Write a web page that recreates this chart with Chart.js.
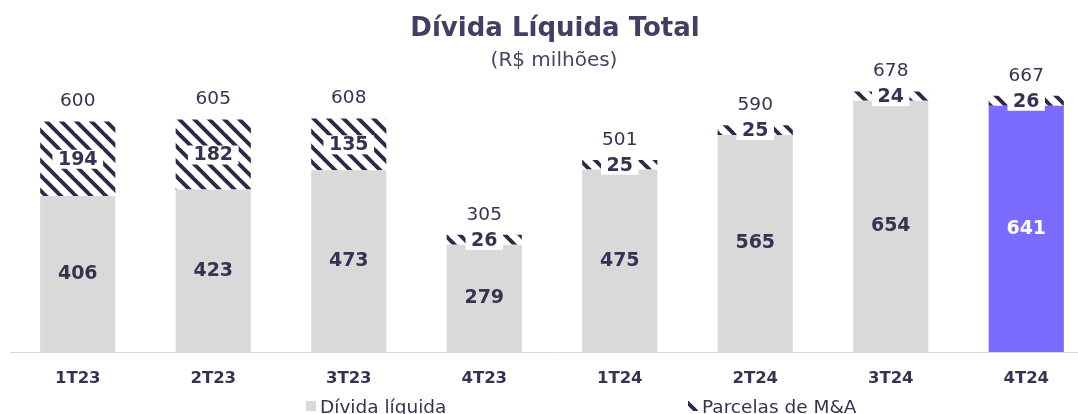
<!DOCTYPE html>
<html>
<head>
<meta charset="utf-8">
<script src="https://cdn.jsdelivr.net/npm/chart.js@4"></script>
<style>
  body { margin: 0; overflow: hidden; background: #fff; }
  #wrap { position: absolute; left: 0; top: 0; width: 1094px; height: 414px; }
</style>
</head>
<body>
<div id="wrap"><canvas id="c" width="1094" height="414"></canvas></div>
<script>
// data
const categories = ['1T23', '2T23', '3T23', '4T23', '1T24', '2T24', '3T24', '4T24'];
const dividaLiquida = [406, 423, 473, 279, 475, 565, 654, 641];
const parcelasMA = [194, 182, 135, 26, 25, 25, 24, 26];
const totais = [600, 605, 608, 305, 501, 590, 678, 667];

const dark = '#3a3152';
const font = 'DejaVu Sans';

// diagonal hatch for the M&A parcels
function hatch() {
  const p = document.createElement('canvas');
  p.width = 15; p.height = 15;
  const g = p.getContext('2d');
  g.strokeStyle = '#2e2948';
  g.lineWidth = 3.9;
  for (const o of [-15, 0, 15]) {
    g.beginPath();
    g.moveTo(o - 2, -2);
    g.lineTo(o + 17, 17);
    g.stroke();
  }
  return g.createPattern(p, 'repeat');
}
const pattern = hatch();

const grayColors = categories.map((c, i) => i === categories.length - 1 ? '#7b6cff' : '#d9d9d9');

const labelsPlugin = {
  id: 'labels',
  afterDatasetsDraw(chart) {
    const ctx = chart.ctx;
    const m0 = chart.getDatasetMeta(0);
    const m1 = chart.getDatasetMeta(1);
    ctx.save();
    ctx.textAlign = 'center';
    ctx.textBaseline = 'middle';
    m0.data.forEach((bar, i) => {
      ctx.font = 'bold 19px "' + font + '"';
      ctx.fillStyle = i === categories.length - 1 ? '#ffffff' : dark;
      ctx.fillText(String(dividaLiquida[i]), bar.x, (bar.y + bar.base) / 2);
    });
    m1.data.forEach((bar, i) => {
      const y = (bar.y + bar.base) / 2;
      ctx.font = 'bold 19px "' + font + '"';
      const txt = String(parcelasMA[i]);
      const w = ctx.measureText(txt).width + 11;
      ctx.fillStyle = '#ffffff';
      ctx.fillRect(bar.x - w / 2, y - 9, w, 19);
      ctx.fillStyle = dark;
      ctx.fillText(txt, bar.x, y + 1);
      ctx.font = '18.5px "' + font + '"';
      ctx.fillText(String(totais[i]), bar.x, bar.y - 20);
    });
    ctx.restore();
  },
  afterDraw(chart) {
    const ctx = chart.ctx;
    ctx.save();
    ctx.textAlign = 'center';
    ctx.textBaseline = 'middle';
    ctx.fillStyle = '#463d62';
    ctx.font = 'bold 26px "' + font + '"';
    ctx.fillText('Dívida Líquida Total', 555, 29);
    ctx.font = '20px "' + font + '"';
    ctx.fillStyle = '#4a4263';
    ctx.fillText('(R$ milhões)', 554, 61);
    // legend
    ctx.textAlign = 'left';
    ctx.textBaseline = 'alphabetic';
    ctx.font = '18.5px "' + font + '"';
    ctx.fillStyle = '#d9d9d9';
    ctx.fillRect(306, 401, 10, 10);
    ctx.fillStyle = dark;
    ctx.fillText('Dívida líquida', 320, 413);
    ctx.fillStyle = pattern;
    ctx.fillRect(688, 401, 10, 10);
    ctx.fillStyle = dark;
    ctx.fillText('Parcelas de M&A', 702, 413);
    ctx.restore();
  }
};

new Chart(document.getElementById('c'), {
  type: 'bar',
  data: {
    labels: categories,
    datasets: [
      { label: 'Dívida líquida', data: dividaLiquida, backgroundColor: grayColors },
      { label: 'Parcelas de M&A', data: parcelasMA, backgroundColor: pattern }
    ]
  },
  options: {
    responsive: false,
    animation: false,
    devicePixelRatio: 1,
    layout: { padding: { left: 10, right: 0, top: 60, bottom: 0 } },
    datasets: { bar: { barPercentage: 0.555, categoryPercentage: 1 } },
    plugins: { legend: { display: false }, title: { display: false }, tooltip: { enabled: false } },
    scales: {
      x: {
        stacked: true,
        grid: { display: false, drawTicks: false },
        border: { display: true, color: '#d9d9d9', width: 1 },
        ticks: { color: dark, padding: 17, font: { family: font, size: 16.5, weight: 'bold' } },
        afterFit(scale) { scale.height = 62; }
      },
      y: { stacked: true, display: false, min: 0, max: 760 }
    }
  },
  plugins: [labelsPlugin]
});
</script>
</body>
</html>
